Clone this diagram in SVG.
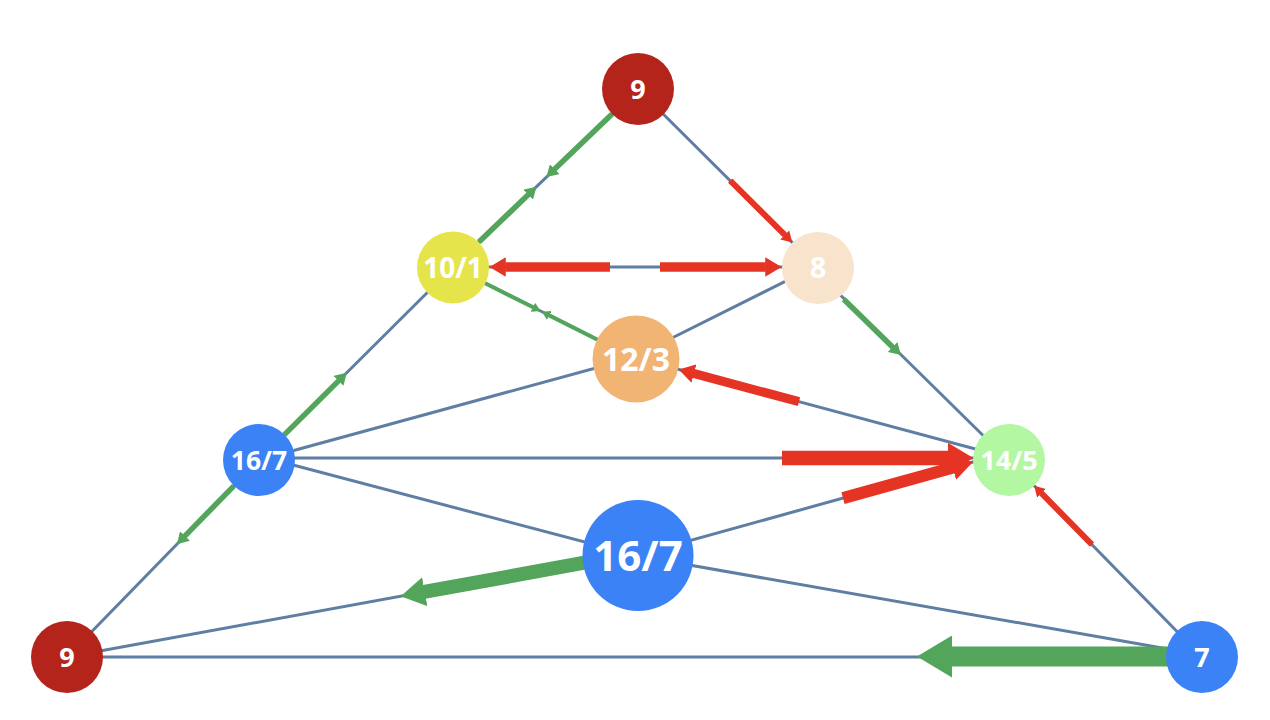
<svg xmlns="http://www.w3.org/2000/svg" width="1270" height="720" viewBox="0 0 1270 720">
<style>
.e{stroke:#5f7ea3;stroke-width:3;fill:none}
.g{stroke:#52a55b;fill:none}
.r{stroke:#e53424;fill:none}
.n text{font-family:"Open Sans","Liberation Sans",sans-serif;font-weight:bold;fill:#fff;text-anchor:middle}
</style>
<defs>
<marker id="ahR" viewBox="0 0 1.75 2.1" refX="0.05" refY="1.05" markerWidth="1.75" markerHeight="2.1" orient="auto" markerUnits="strokeWidth"><path d="M0,0 L1.75,1.05 L0,2.1 z" fill="#e53424"/></marker>
<marker id="ahG" viewBox="0 0 1.75 2.1" refX="0.05" refY="1.05" markerWidth="1.75" markerHeight="2.1" orient="auto" markerUnits="strokeWidth"><path d="M0,0 L1.75,1.05 L0,2.1 z" fill="#52a55b"/></marker>
<marker id="asG" viewBox="0 0 2.1 2.5" refX="0.05" refY="1.25" markerWidth="2.1" markerHeight="2.5" orient="auto" markerUnits="strokeWidth"><path d="M0,0 L2.1,1.25 L0,2.5 z" fill="#52a55b"/></marker>
</defs>
<g id="connectors">
<g id="edges">
<line class="e" x1="638" y1="89" x2="453" y2="267"/>
<line class="e" x1="638" y1="89" x2="818" y2="268"/>
<line class="e" x1="453" y1="267" x2="818" y2="267"/>
<line class="e" x1="453" y1="267" x2="636" y2="359"/>
<line class="e" x1="453" y1="267" x2="259" y2="460"/>
<line class="e" x1="818" y1="265" x2="636" y2="356"/>
<line class="e" x1="818" y1="273" x2="1009" y2="461"/>
<line class="e" x1="636" y1="357" x2="259" y2="460"/>
<line class="e" x1="636" y1="358" x2="1009" y2="458"/>
<line class="e" x1="259" y1="458" x2="1009" y2="458"/>
<line class="e" x1="259" y1="456" x2="638" y2="556"/>
<line class="e" x1="638" y1="555" x2="1009" y2="452"/>
<line class="e" x1="638" y1="556" x2="1202" y2="655"/>
<line class="e" x1="638" y1="553" x2="67" y2="657"/>
<line class="e" x1="259" y1="460" x2="67" y2="657"/>
<line class="e" x1="67" y1="657" x2="1202" y2="657"/>
<line class="e" x1="1009" y1="460" x2="1202" y2="657"/>
</g>
<g id="flows">
<line class="g" stroke-width="5.5" marker-end="url(#asG)" x1="612.1" y1="114" x2="554.5" y2="169.3"/>
<line class="g" stroke-width="5.5" marker-end="url(#asG)" x1="478.9" y1="242" x2="528.4" y2="194.5"/>
<line class="g" stroke-width="5.5" marker-end="url(#asG)" x1="284.5" y1="434.6" x2="338.8" y2="380.6"/>
<line class="g" stroke-width="5.5" marker-end="url(#asG)" x1="843.7" y1="299.2" x2="892.8" y2="347.2"/>
<line class="g" stroke-width="5.5" marker-end="url(#asG)" x1="233.9" y1="485.8" x2="184.8" y2="536.1"/>
<line class="g" stroke-width="4" marker-end="url(#asG)" x1="485.2" y1="283.2" x2="533.1" y2="307.3"/>
<line class="g" stroke-width="4" marker-end="url(#asG)" x1="597.1" y1="339.5" x2="549.2" y2="315.4"/>
<line class="r" stroke-width="6" marker-end="url(#ahR)" x1="730.2" y1="180.7" x2="785" y2="235.2"/>
<line class="r" stroke-width="9.3" marker-end="url(#ahR)" x1="610" y1="267" x2="505.3" y2="267"/>
<line class="r" stroke-width="9.3" marker-end="url(#ahR)" x1="660" y1="267" x2="765.7" y2="267"/>
<line class="r" stroke-width="9" marker-end="url(#ahR)" x1="799" y1="401.7" x2="693.5" y2="373.4"/>
<line class="r" stroke-width="14.7" marker-end="url(#ahR)" x1="782" y1="458" x2="948.3" y2="458"/>
<line class="r" stroke-width="12" marker-end="url(#ahR)" x1="843" y1="498.1" x2="953.3" y2="467.5"/>
<line class="r" stroke-width="6" marker-end="url(#ahR)" x1="1092" y1="544.7" x2="1041.4" y2="493.1"/>
<line class="g" stroke-width="14" marker-end="url(#ahG)" x1="590" y1="561.7" x2="424.1" y2="591.9"/>
<line class="g" stroke-width="20" marker-end="url(#ahG)" x1="1180" y1="656.5" x2="951" y2="656.5"/>
</g>
</g>
<g id="n9top" class="n"><circle cx="638" cy="89" r="36" fill="#b5241b"/><text x="638" y="98.8" font-size="27">9</text></g>
<g id="n10_1" class="n"><circle cx="453" cy="267.5" r="36" fill="#e5e54b"/><text x="453" y="277.6" font-size="28">10/1</text></g>
<g id="n8" class="n"><circle cx="818" cy="268" r="36" fill="#f8e3cc"/><text x="818" y="278.4" font-size="29">8</text></g>
<g id="n12_3" class="n"><circle cx="636" cy="359" r="43.5" fill="#f2b472"/><text x="636" y="370.5" font-size="32">12/3</text></g>
<g id="n16_7a" class="n"><circle cx="259" cy="460" r="36" fill="#3b82f6"/><text x="259" y="469.6" font-size="26.5">16/7</text></g>
<g id="n14_5" class="n"><circle cx="1009" cy="460" r="36" fill="#b3f7a3"/><text x="1009" y="469.7" font-size="27">14/5</text></g>
<g id="n16_7b" class="n"><circle cx="638" cy="555.5" r="55.5" fill="#3b82f6"/><text x="638" y="570.6" font-size="42">16/7</text></g>
<g id="n9bot" class="n"><circle cx="67" cy="657" r="36" fill="#b5241b"/><text x="67" y="666.8" font-size="27">9</text></g>
<g id="n7" class="n"><circle cx="1202" cy="657" r="36" fill="#3b82f6"/><text x="1202" y="666.8" font-size="27">7</text></g>
</svg>
